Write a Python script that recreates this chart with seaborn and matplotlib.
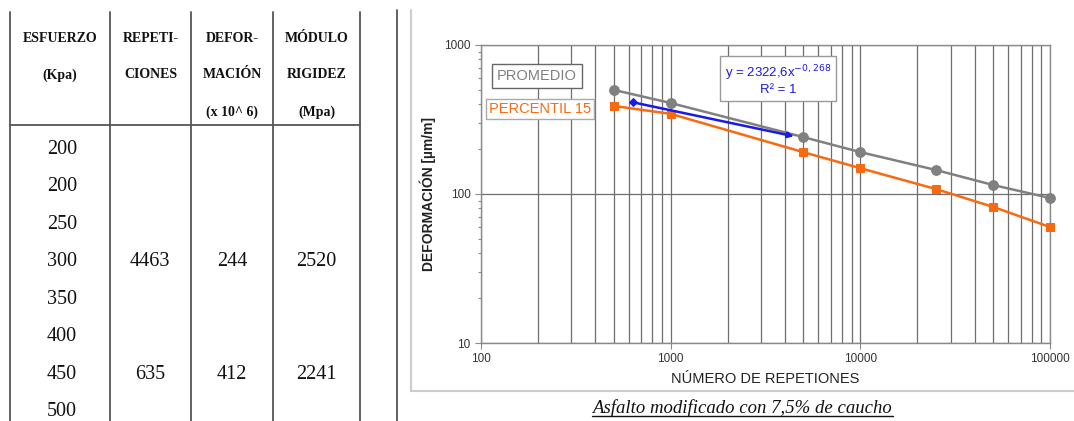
import numpy as np
import pandas as pd
import matplotlib
matplotlib.use("Agg")
import matplotlib.pyplot as plt
import seaborn as sns
from matplotlib.ticker import FuncFormatter, LogLocator, NullFormatter

# table data
esfuerzo = ["200", "200", "250", "300", "350", "400", "450", "500"]
repeticiones = ["4463", "635"]
deformacion = ["244", "412"]
modulo = ["2520", "2241"]
headers = [["ESFUERZO", "(Kpa)"], ["REPETI-", "CIONES"],
           ["DEFOR-", "MACIÓN", "(x 10^ 6)"], ["MÓDULO", "RIGIDEZ", "(Mpa)"]]

# chart data
reps = [500, 1000, 5000, 10000, 25000, 50000, 100000]
promedio = [500, 408, 241, 191, 145, 115, 94]
percentil15 = [390, 345, 191, 149, 108, 82, 60]
ajuste_x = [635, 4463]
ajuste_y = [412, 244]

gris = "#808080"
naranja = "#f96a10"
azul = "#1a1ae6"

sns.set_style("white")
plt.rcParams["font.family"] = ["Liberation Sans", "DejaVu Sans"]

fig = plt.figure(figsize=(10.74, 4.21), dpi=100)

# overlay in pixel coords for table & frames
bg = fig.add_axes([0, 0, 1, 1])
bg.set_xlim(0, 1074)
bg.set_ylim(421, 0)
bg.axis("off")

colx = [10, 110, 191, 273, 360]
for x in colx:
    bg.plot([x, x], [12, 421], color="#555555", lw=1.3)
bg.plot([colx[0], colx[-1]], [125, 125], color="#555555", lw=1.3)
header_y = [38, 75, 112]
for i, h in enumerate(headers):
    cx = (colx[i] + colx[i + 1]) / 2
    for j, t in enumerate(h):
        bg.text(cx, header_y[j], t, ha="center", va="center", fontsize=10,
                fontweight="bold", family="Liberation Serif", color="#111111")
row_y = np.linspace(149, 412, len(esfuerzo))
for k, v in enumerate(esfuerzo):
    bg.text(62, row_y[k], v, ha="center", va="center", fontsize=14.5,
            family="Liberation Serif", color="#111111")
for k, idx in enumerate([3, 6]):
    bg.text(150, row_y[idx], repeticiones[k], ha="center", va="center",
            fontsize=14.5, family="Liberation Serif", color="#111111")
    bg.text(232, row_y[idx], deformacion[k], ha="center", va="center",
            fontsize=14.5, family="Liberation Serif", color="#111111")
    bg.text(316, row_y[idx], modulo[k], ha="center", va="center",
            fontsize=14.5, family="Liberation Serif", color="#111111")

# separator and chart frame
bg.plot([397, 397], [10, 421], color="#555555", lw=1.3)
bg.plot([411, 411], [10, 391], color="#cccccc", lw=1.5)
bg.plot([411, 1074], [391, 391], color="#cccccc", lw=1.5)
bg.text(742, 408, "Asfalto modificado con 7,5% de caucho", ha="center",
        va="center", fontsize=13.5, style="italic", family="Liberation Serif",
        color="#111111")
bg.plot([592, 893], [416, 416], color="#111111", lw=1)

# chart
ax = fig.add_axes([481 / 1074, 78 / 421, 569 / 1074, 298 / 421])
ax.set_xscale("log")
ax.set_yscale("log")
ax.set_xlim(100, 100000)
ax.set_ylim(10, 1000)

ax.xaxis.set_major_locator(LogLocator(base=10))
ax.xaxis.set_minor_locator(LogLocator(base=10, subs=np.arange(2, 10)))
ax.yaxis.set_major_locator(LogLocator(base=10))
ax.yaxis.set_minor_locator(LogLocator(base=10, subs=np.arange(2, 10)))
fmt = FuncFormatter(lambda v, p: f"{v:g}")
ax.xaxis.set_major_formatter(fmt)
ax.yaxis.set_major_formatter(fmt)
ax.xaxis.set_minor_formatter(NullFormatter())
ax.yaxis.set_minor_formatter(NullFormatter())

ax.grid(True, which="both", axis="x", color="#6e6e6e", lw=0.9)
ax.grid(True, which="major", axis="y", color="#6e6e6e", lw=0.9)
for s in ax.spines.values():
    s.set_color("#8a8a8a")
    s.set_linewidth(1.0)
ax.tick_params(axis="both", which="major", direction="out", length=4,
               width=0.8, color="#8a8a8a", labelsize=8.5, labelcolor="#333333",
               left=True, bottom=True)
ax.tick_params(axis="y", which="minor", direction="out", length=2.5,
               width=0.8, color="#8a8a8a", left=True)
ax.tick_params(axis="x", which="minor", length=0)

sns.lineplot(x=reps, y=promedio, ax=ax, color=gris, lw=1.8, marker="o",
             markersize=7, markeredgecolor=gris, zorder=4)
sns.lineplot(x=reps, y=percentil15, ax=ax, color=naranja, lw=1.8, marker="s",
             markersize=6, markeredgecolor=naranja, zorder=4)
sns.lineplot(x=ajuste_x[:1], y=ajuste_y[:1], ax=ax, color=azul, marker="D",
             markersize=4, markeredgecolor=azul, linestyle="", zorder=5)
for ln in ax.lines:
    ln.set_clip_on(False)
ax.annotate("", xy=(ajuste_x[1], ajuste_y[1]), xytext=(ajuste_x[0], ajuste_y[0]),
            arrowprops=dict(arrowstyle="-|>", color=azul, lw=1.8,
                            mutation_scale=8, shrinkA=0, shrinkB=0), zorder=5)

ax.set_xlabel("NÚMERO DE REPETIONES", fontsize=10.5, color="#222222", labelpad=5)
ax.set_ylabel("DEFORMACIÓN [µm/m]", fontsize=10, color="#222222", labelpad=6,
              fontweight="bold")

ax.text(0.098, 0.896, "PROMEDIO", transform=ax.transAxes, ha="center",
        va="center", fontsize=10.5, color=gris, zorder=6,
        bbox=dict(boxstyle="square,pad=0.35", fc="white", ec="#666666", lw=1))
ax.text(0.104, 0.785, "PERCENTIL 15", transform=ax.transAxes, ha="center",
        va="center", fontsize=10.5, color=naranja, zorder=6,
        bbox=dict(boxstyle="square,pad=0.2", fc="white", ec="#aaaaaa", lw=1))
ax.text(0.522, 0.883, "y = 2322,6x$^{-0,268}$\nR² = 1", transform=ax.transAxes,
        ha="center", va="center", fontsize=9.5, color=azul, zorder=6,
        linespacing=1.1,
        bbox=dict(boxstyle="square,pad=0.35", fc="white", ec="#999999", lw=1))

fig.savefig("out.png", dpi=100)
